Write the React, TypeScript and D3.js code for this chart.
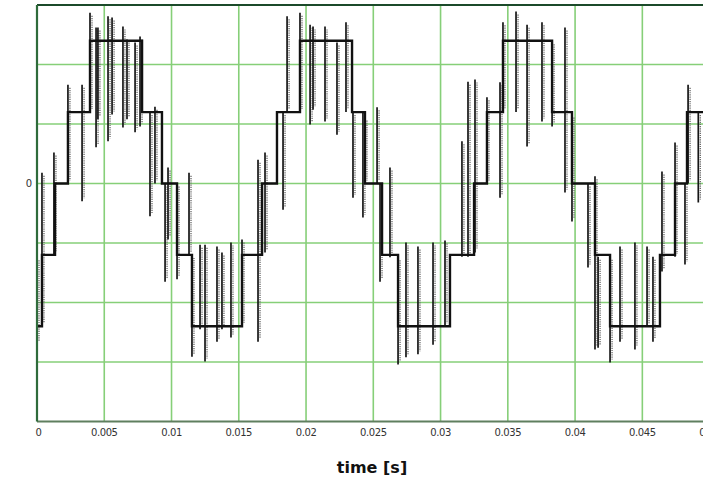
import React from "react";
import * as d3 from "d3";

// time in ms, voltage levels (grid division = 100)
const stepTimes = [0, 0.37, 1.34, 2.3, 3.94, 7.81, 9.29, 10.41, 11.52, 15.24, 16.73, 17.84, 19.55, 23.42, 24.38, 25.65, 26.84, 30.7, 32.49, 33.45, 34.64, 38.29, 39.77, 41.48, 42.6, 46.31, 47.43, 48.32, 50];
const stepLevels = [-240, -120, 0, 120, 240, 120, 0, -120, -240, -120, 0, 120, 240, 120, 0, -120, -240, -120, 0, 120, 240, 120, 0, -120, -240, -120, 0, 120, 120];

const spikeTimes = [0, 0.37, 1.26, 2.3, 3.35, 3.94, 4.39, 4.53, 5.28, 5.58, 6.39, 6.69, 7.29, 7.66, 8.4, 8.77, 9.52, 9.74, 10.41, 11.3, 11.52, 12.12, 12.49, 13.38, 13.75, 14.42, 15.24, 16.43, 16.95, 18.29, 18.59, 19.55, 20.3, 20.52, 21.41, 22.3, 22.97, 23.49, 24.23, 24.38, 25.28, 25.5, 26.24, 26.84, 27.43, 28.32, 29.44, 30.33, 31.59, 32.04, 32.56, 33.45, 34.42, 34.64, 35.61, 36.43, 37.54, 38.29, 39.25, 39.77, 40.96, 41.48, 41.71, 42.6, 43.34, 44.45, 45.35, 45.79, 46.46, 47.43, 48.17, 48.4, 49.16];
const spikeTops = [-124, 18, 52, 166, 166, 287, 262, 262, 281, 279, 264, 242, 237, 247, 120, 129, 0, 27, 0, 18, -120, -103, -103, -106, -116, -99, -94, 40, 52, 120, 281, 287, 267, 264, 264, 237, 271, 120, 120, 111, 128, 0, 27, -124, -99, -106, -99, -96, 71, 171, 175, 145, 170, 271, 289, 267, 271, 239, 262, 116, 0, 12, -123, -123, -106, -99, -106, -123, 20, 69, 0, 166, 120];
const spikeBottoms = [-271, -240, -120, 0, -30, 120, 61, 108, 71, 116, 94, 108, 86, 96, -55, 0, -165, -94, -161, -120, -291, -245, -299, -266, -245, -259, -240, -266, -116, -44, 120, 120, 99, 124, 104, 82, 120, -24, -57, 0, 0, -165, -124, -304, -292, -287, -271, -240, -123, -123, -116, 0, -24, 120, 120, 62, 104, 96, -15, -64, -141, -279, -276, -301, -266, -279, -240, -266, -148, -123, -136, 0, -32];

const xTickValues = [0, 5, 10, 15, 20, 25, 30, 35, 40, 45, 50];
const xTickLabels = ["0", "0.005", "0.01", "0.015", "0.02", "0.025", "0.03", "0.035", "0.04", "0.045", "0.05"];
const yGridValues = [-300, -200, -100, 0, 100, 200];
const yTickValues = [0];
const yTickLabels = ["0"];

export default function App() {
  const W = 703, H = 483;
  const x = d3.scaleLinear().domain([0, 50]).range([37, 709.6]);
  const y = d3.scaleLinear().domain([-400, 300]).range([421.5, 5]);
  const stepData = stepTimes.map((t, i) => [t, stepLevels[i]] as [number, number]);
  const line = d3.line<[number, number]>().x(d => x(d[0])).y(d => y(d[1])).curve(d3.curveStepAfter);
  const x0 = x(0), x1 = x(50), yT = y(300), yB = y(-400);
  const grid = "#86cf78";
  return (
    <svg width={W} height={H} style={{ position: "absolute", left: 0, top: 0, background: "#fff" }}>
      <defs>
        <clipPath id="plot">
          <rect x={x0} y={yT} width={x1 - x0} height={yB - yT} />
        </clipPath>
      </defs>
      <rect x={0} y={0} width={W} height={H} fill="#fff" />
      {yGridValues.map(v => (
        <line key={"h" + v} x1={x0} x2={x1} y1={y(v)} y2={y(v)} stroke={grid} strokeWidth={1.6} />
      ))}
      {xTickValues.slice(1).map(v => (
        <line key={"v" + v} x1={x(v)} x2={x(v)} y1={yT} y2={yB} stroke={grid} strokeWidth={1.6} />
      ))}
      <g clipPath="url(#plot)">
        {spikeTimes.map((t, i) => (
          <line key={"d" + i} x1={x(t) + 2} x2={x(t) + 2} y1={y(spikeTops[i]) + 3} y2={y(spikeBottoms[i]) - 3}
            stroke="#666" strokeWidth={1.3} strokeDasharray="1.2 1" />
        ))}
        {spikeTimes.map((t, i) => (
          <line key={"s" + i} x1={x(t)} x2={x(t)} y1={y(spikeTops[i])} y2={y(spikeBottoms[i])}
            stroke="#161616" strokeWidth={1.7} />
        ))}
        <path d={line(stepData) || ""} fill="none" stroke="#111" strokeWidth={2.4} />
      </g>
      <line x1={x0} x2={x1} y1={yT} y2={yT} stroke="#1b4a2a" strokeWidth={2} />
      <line x1={x0} x2={x1} y1={yB} y2={yB} stroke="#5f7f5f" strokeWidth={2} />
      <line x1={x0} x2={x0} y1={yT} y2={yB} stroke="#2f6b3b" strokeWidth={2.2} />
      {xTickValues.map((v, i) => (
        <text key={"t" + v} x={x(v) + (i === 0 ? 1.5 : 0)} y={436} textAnchor="middle"
          fontFamily="DejaVu Sans, sans-serif" fontSize={10} fill="#333" letterSpacing={-0.4}>
          {xTickLabels[i]}
        </text>
      ))}
      {yTickValues.map((v, i) => (
        <text key={"y" + v} x={32} y={y(v) + 3.5} textAnchor="end"
          fontFamily="DejaVu Sans, sans-serif" fontSize={10} fill="#333">
          {yTickLabels[i]}
        </text>
      ))}
      <text x={372} y={473} textAnchor="middle" fontFamily="DejaVu Sans, sans-serif" fontSize={16}
        fontWeight="bold" fill="#111">time [s]</text>
    </svg>
  );
}
